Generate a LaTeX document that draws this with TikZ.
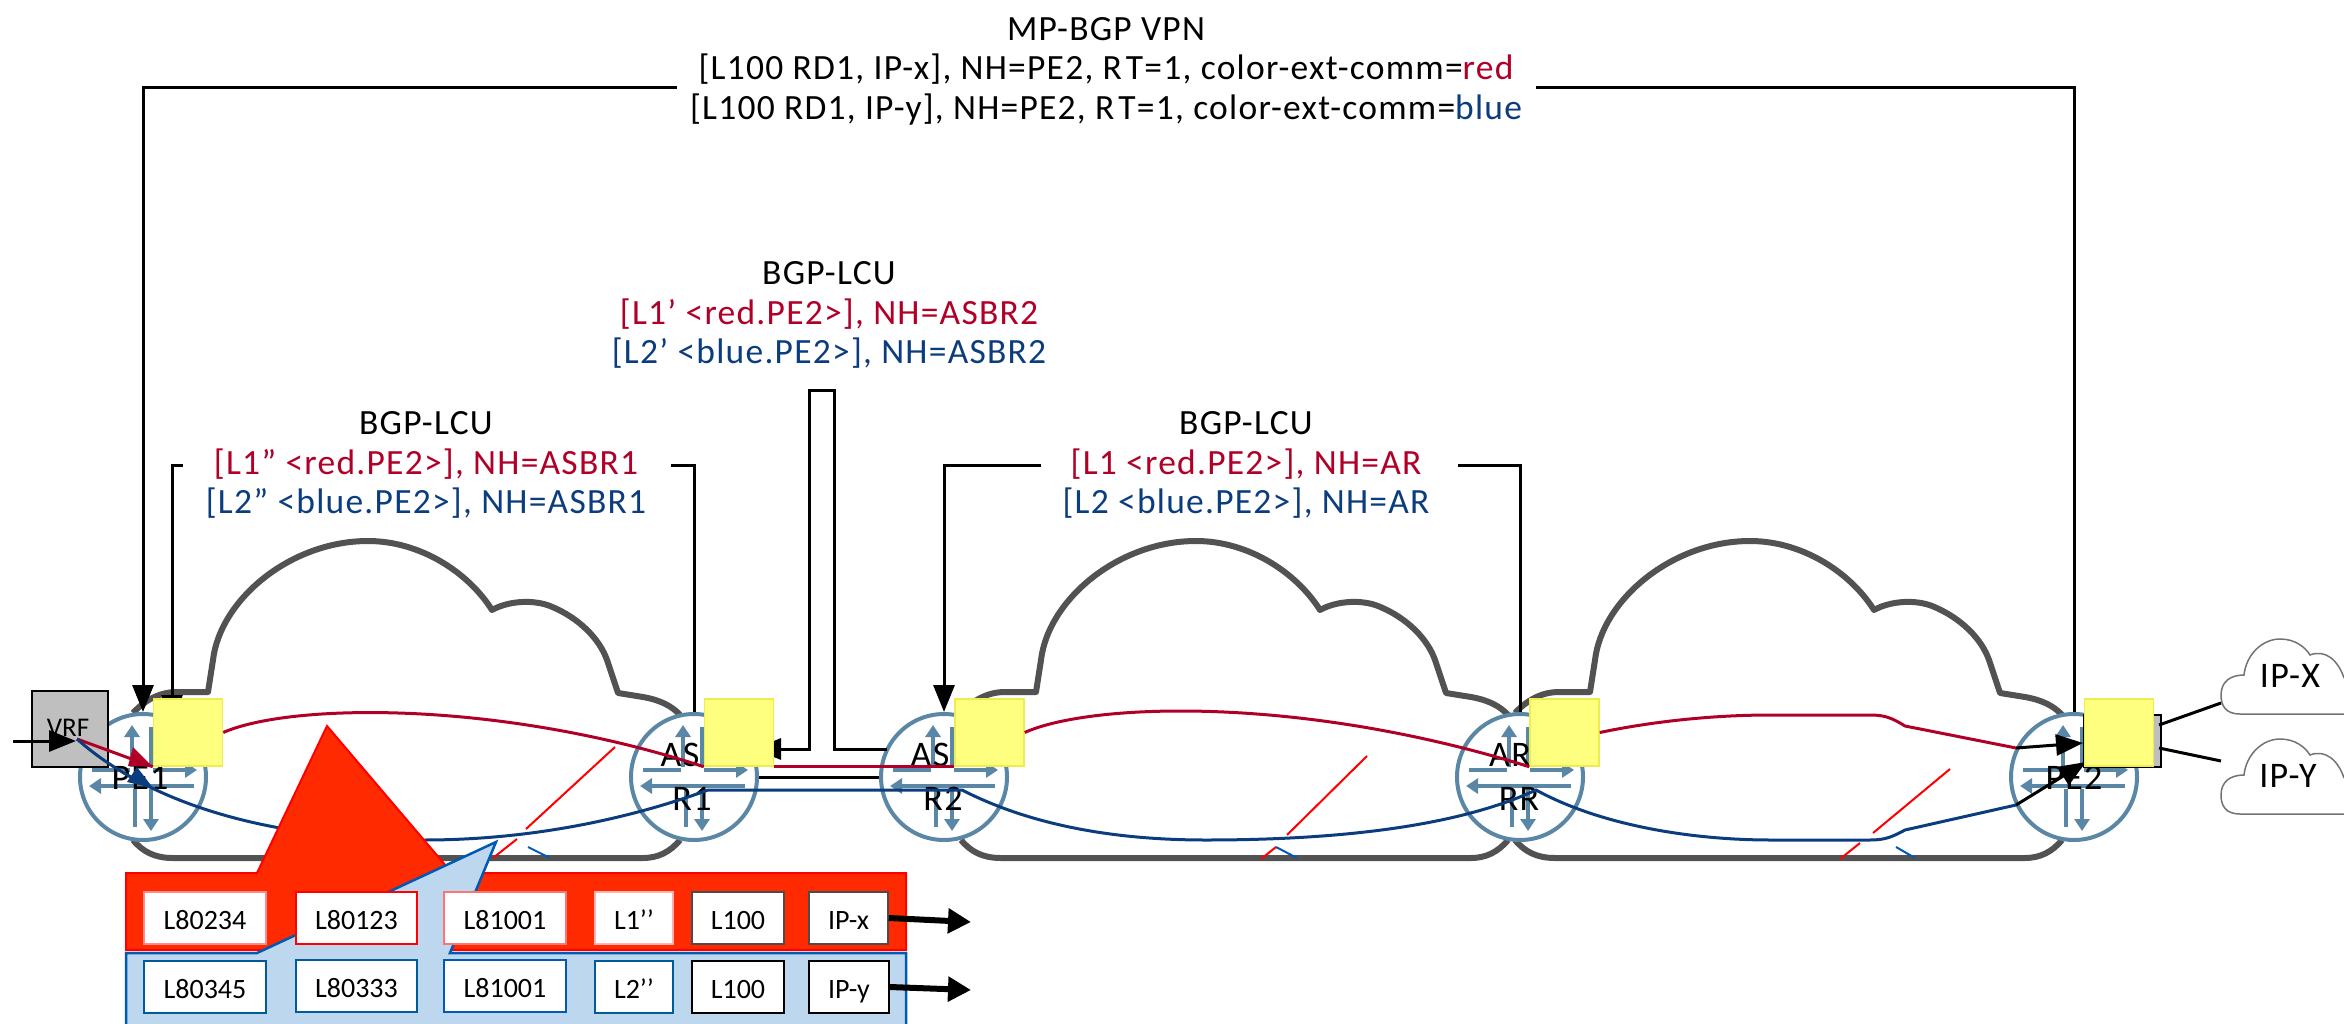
\documentclass[tikz,border=0pt]{standalone}
\usepackage{fontspec}
\setmainfont{Carlito}
\newfontfamily\wideface[LetterSpace=3.5]{Carlito}
\usepackage{tikz}
\usetikzlibrary{calc}
\usetikzlibrary{arrows.meta}
\definecolor{bgpred}{HTML}{B00028}
\definecolor{bgpblue}{HTML}{0B3D7E}
\definecolor{iconblue}{HTML}{5B87A6}
\definecolor{boxyellow}{HTML}{FFFF7F}
\definecolor{stackred}{HTML}{FF2A00}
\definecolor{stackblue}{HTML}{BDD7EE}
\tikzset{
  router/.style={circle, draw=iconblue, line width=4pt, fill=white, minimum size=126pt, inner sep=0pt},
  rlabel/.style={font=\wideface\fontsize{36}{36}\selectfont, inner sep=0pt},
  yellowbox/.style={draw=boxyellow!90!black!70!yellow, line width=1.5pt, fill=boxyellow, minimum width=69pt, minimum height=67pt, inner sep=0pt},
  toptext/.style={font=\wideface\fontsize{35.5}{39.5}\selectfont, align=center, inner sep=0pt},
  cellbox/.style={draw=#1, line width=1.5pt, fill=white, minimum height=52pt, inner sep=0pt, text height=24pt, text depth=2pt, font=\fontsize{28}{28}\selectfont},
  bigarrow/.style={line width=6pt, -{Triangle[length=23pt,width=24pt]}},
  signal/.style={line width=3pt},
  cloudline/.style={draw=black!68, line width=6pt, line join=round},
  smallcloud/.style={draw=black!55, line width=1.5pt},
  redline/.style={draw=bgpred, line width=3pt},
  blueline/.style={draw=bgpblue, line width=3pt}
}
\newcommand{\routericon}[1]{
  \begin{scope}[shift={(#1)}, draw=iconblue, line width=3.5pt]
    \draw (-51,-7) -- (-13,-7);
    \draw[-{Triangle[length=12pt,width=15pt]}] (10,-7) -- (54,-7);
    \draw[-{Triangle[length=12pt,width=15pt]}] (51,9) -- (-54,9);
    \draw[-{Triangle[length=12pt,width=15pt]}] (-11,-10) -- (-11,-52);
    \draw (8,-10) -- (8,-50);
    \draw (-8,12) -- (-8,50);
    \draw[-{Triangle[length=12pt,width=15pt]}] (8,12) -- (8,54);
  \end{scope}
}
\newcommand{\bigcloud}[1]{
  \draw[cloudline, shift={(#1,0)}] (133,713) .. controls (145,700) and (160,692) .. (177,692) -- (208,692) -- (213,660)
    .. controls (220,600) and (290,541) .. (368,541) .. controls (420,541) and (468,572) .. (492,610)
    .. controls (510,600) and (535,600) .. (550,606) .. controls (580,618) and (600,640) .. (607,660)
    -- (618,693) -- (643,697) .. controls (660,700) and (672,706) .. (680,715)
    (680,840) .. controls (670,852) and (658,858) .. (643,858) -- (173,858) .. controls (155,858) and (143,852) .. (133,840);
}
\newcommand{\ipcloud}[1]{
  \draw[smallcloud, shift={(0,#1)}] (2344,714) -- (2240,714) .. controls (2225,714) and (2221,705) .. (2221,695)
    .. controls (2221,682) and (2230,675) .. (2244,675) .. controls (2246,655) and (2262,639) .. (2280,639)
    .. controls (2295,639) and (2305,647) .. (2310,655) .. controls (2325,649) and (2338,660) .. (2344,678);
}

\begin{document}
\begin{tikzpicture}[x=1pt, y=-1pt]
    \useasboundingbox (0,0) rectangle (2344,1024);
    % clouds
    \bigcloud{0}
    \bigcloud{828}
    \bigcloud{1382}
    \ipcloud{0}
    \ipcloud{100}
    % leftovers of the thin lines
    \draw[red, line width=2pt] (615,747) -- (526,829) (517,839) -- (493,858);
    \draw[red, line width=2pt] (1367,756) -- (1287,835) (1276,847) -- (1261,859);
    \draw[red, line width=2pt] (1950,769) -- (1873,833) (1860,843) -- (1840,859);
    \draw[blue!50!cyan!70!black, line width=2pt] (528,847) -- (550,858);
    \draw[blue!50!cyan!70!black, line width=2pt] (1276,847) -- (1297,858);
    \draw[blue!50!cyan!70!black, line width=2pt] (1896,847) -- (1915,858);
    % routers
    \node[router] (pe1) at (143,777) {};
    \node[router] (asbr1) at (694,777) {};
    \node[router] (asbr2) at (944,777) {};
    \node[router] (arrr) at (1520,777) {};
    \node[router] (pe2) at (2074,777) {};
    \routericon{pe1}
    \routericon{asbr1}
    \routericon{asbr2}
    \routericon{arrr}
    \routericon{pe2}
    % vrf boxes
    \node[draw=black, line width=2.5pt, fill=black!25, minimum width=76pt, minimum height=76pt, inner sep=0pt] (vrf) at (70,729) {};
    \node[font=\fontsize{27}{27}\selectfont, inner sep=0pt] (vrftext) at (68,728) {VRF};
    \node[draw=black, line width=2.5pt, fill=black!25, minimum width=77pt, minimum height=52pt, inner sep=0pt] (vrf2) at (2122.5,741) {};
    % router names
    \node[rlabel] (pe1text) at (140,778) {PE1};
    \node[rlabel] (asbr1top) at (680,755) {AS};
    \node[rlabel] (asbr1bot) at (692,799) {R1};
    \node[rlabel] (asbr2top) at (930,755) {AS};
    \node[rlabel] (asbr2bot) at (943,799) {R2};
    \node[rlabel] (arrrtop) at (1510,755) {AR};
    \node[rlabel] (arrrbot) at (1519,799) {RR};
    \node[rlabel] (pe2text) at (2074,778) {PE2};
    % labels
    \node[toptext] (mpbgp) at (1106,71) {MP-BGP VPN\\{}[L100 RD1, IP-x], NH=PE2, R\kern4pt T=1, color-ext-comm=\textcolor{bgpred}{red}\\{}[L100 RD1, IP-y], NH=PE2, R\kern4pt T=1, color-ext-comm=\textcolor{bgpblue}{blue}};
    \node[toptext] (lcumid) at (829,315) {BGP-LCU\\\textcolor{bgpred}{[L1’ <red.PE2>], NH=ASBR2}\\\textcolor{bgpblue}{[L2’ <blue.PE2>], NH=ASBR2}};
    \node[toptext] (lculeft) at (426,465) {BGP-LCU\\\textcolor{bgpred}{[L1” <red.PE2>], NH=ASBR1}\\\textcolor{bgpblue}{[L2” <blue.PE2>], NH=ASBR1}};
    \node[toptext] (lcuright) at (1246,465) {BGP-LCU\\\textcolor{bgpred}{[L1 <red.PE2>], NH=AR}\\\textcolor{bgpblue}{[L2 <blue.PE2>], NH=AR}};
    \node[rlabel] (ipx) at (2290,676) {IP-X};
    \node[rlabel] (ipy) at (2288,776) {IP-Y};
    % signalling lines
    \coordinate (mpbgpl) at (677,88);
    \coordinate (mpbgpr) at (1536,88);
    \coordinate (lculeftl) at (183,465);
    \coordinate (lculeftr) at (671,465);
    \coordinate (lcurightl) at (1041,465);
    \coordinate (lcurightr) at (1458,465);
    \coordinate (pe1in) at (172,722);
    \coordinate (asbr1in) at (754,749);
    \coordinate (asbr2out) at (887,749);
    \draw[signal, -{Triangle[length=27pt,width=21pt]}] (mpbgpl) -| (pe1.north);
    \draw[signal] (mpbgpr) -| (pe2.north);
    \draw[signal, -{Triangle[length=27pt,width=21pt]}] (lculeftl) -| (pe1in);
    \draw[signal] (lculeftr) -| (asbr1.north);
    \draw[signal, -{Triangle[length=27pt,width=21pt]}] (lcurightl) -| (asbr2.north);
    \draw[signal] (lcurightr) -| (arrr.north);
    \draw[signal, -{Triangle[length=27pt,width=21pt]}] (asbr2out) -- (834,749) -- (834,390) -- (809,390) -- (809,749) -- (asbr1in);
    \draw[signal] (asbr1.east) -- (asbr2.west);
    % lines to the ip clouds
    \coordinate (ipxend) at (2221,703);
    \coordinate (ipyend) at (2221,761);
    \draw[signal] (2159,725) -- (ipxend);
    \draw[signal] (2159,748) -- (ipyend);
    % black ends at pe2
    \coordinate (pe2red) at (2016,748);
    \coordinate (pe2blue) at (2016,805);
    \coordinate (pe2redin) at (2083,743);
    \coordinate (pe2bluein) at (2086,762);
    \draw[signal, -{Triangle[length=27pt,width=21pt]}] (pe2red) -- (pe2redin);
    \draw[signal, -{Triangle[length=27pt,width=21pt]}] (pe2blue) -- (pe2bluein);
    % yellow boxes
    \node[yellowbox] (pe1box) at (188,732.5) {};
    \node[yellowbox] (asbr1box) at (739,732.5) {};
    \node[yellowbox] (asbr2box) at (989.5,732.5) {};
    \node[yellowbox] (arrrbox) at (1564.5,732.5) {};
    \node[yellowbox] (pe2box) at (2119,732.5) {};
    % red path
    \coordinate (vrfout) at (77,739);
    \draw[redline] (vrfout) -- (pe1box.south west);
    \fill[bgpred] (pe1box.south west) -- (133,747) -- (128,766) -- cycle;
    \draw[redline] (pe1box.east) .. controls (290,703) and (500,700) .. (asbr1box.south west);
    \draw[redline] (asbr1box.south east) -- (asbr2box.south west);
    \draw[redline] (asbr2box.east) .. controls (1090,703) and (1300,695) .. (arrrbox.south west);
    \draw[redline] (arrrbox.east) .. controls (1650,722) and (1710,715) .. (1771,715) -- (1870,715) .. controls (1885,715) and (1892,718) .. (1905,726) -- (pe2red);
    % blue path
    \coordinate (asbr1blue) at (708,790);
    \coordinate (asbr2blue) at (962,790);
    \coordinate (arrrblue) at (1536,790);
    \draw[blueline] (vrfout) .. controls (140,795) and (250,840) .. (424,840) .. controls (540,840) and (640,815) .. (asbr1blue) -- (asbr2blue)
      .. controls (1040,830) and (1130,840) .. (1206,840) .. controls (1320,840) and (1450,830) .. (arrrblue)
      .. controls (1600,825) and (1690,840) .. (1771,840) -- (1870,840) .. controls (1885,840) and (1892,837) .. (1905,830) -- (pe2blue);
    \fill[bgpblue] (137,767) -- (127,782) -- (153,788) -- cycle;
    % input arrow
    \coordinate (vrfin) at (13,741);
    \draw[signal, -{Triangle[length=27pt,width=21pt]}] (vrfin) -- (76,741);
    % stacks
    \filldraw[draw=red, fill=stackred, line width=2pt] (126,873) -- (257,873) -- (327,726) -- (452,873) -- (906,873) -- (906,950) -- (126,950) -- cycle;
    \filldraw[draw=blue!50!cyan!70!black, fill=stackblue, line width=2.5pt] (126,1024) -- (126,953) -- (257,953) -- (496,842) -- (450,953) -- (906,953) -- (906,1024);
    % row 1
    \node[cellbox=red!45, minimum width=122pt] (redA) at (205,918) {L80234};
    \node[cellbox=red, minimum width=121pt] (redB) at (356.5,918) {L80123};
    \node[cellbox=red!55, minimum width=122pt] (redC) at (505,918) {L81001};
    \node[cellbox=red!30, minimum width=78pt] (redD) at (634,918) {L1’’};
    \node[cellbox=black!70, minimum width=92pt] (redE) at (738,918) {L100};
    \node[cellbox=black!70, minimum width=79pt] (redF) at (848.5,918) {IP-x};
    % row 2
    \node[cellbox=blue!40!cyan!60!black, minimum width=122pt] (blueA) at (205,987) {L80345};
    \node[cellbox=blue!40!cyan!60!black, minimum width=121pt] (blueB) at (356.5,986) {L80333};
    \node[cellbox=blue!50!cyan!70!black, minimum width=122pt] (blueC) at (505,986) {L81001};
    \node[cellbox=blue!40!cyan!60!black, minimum width=78pt] (blueD) at (634,987) {L2’’};
    \node[cellbox=black, minimum width=92pt] (blueE) at (738,987) {L100};
    \node[cellbox=black, minimum width=80pt] (blueF) at (849,987) {IP-y};
    % arrows out
    \coordinate (redout) at (971,922);
    \coordinate (blueout) at (971,990);
    \draw[bigarrow] (redF.east) -- (redout);
    \draw[bigarrow] (blueF.east) -- (blueout);
\end{tikzpicture}
\end{document}
